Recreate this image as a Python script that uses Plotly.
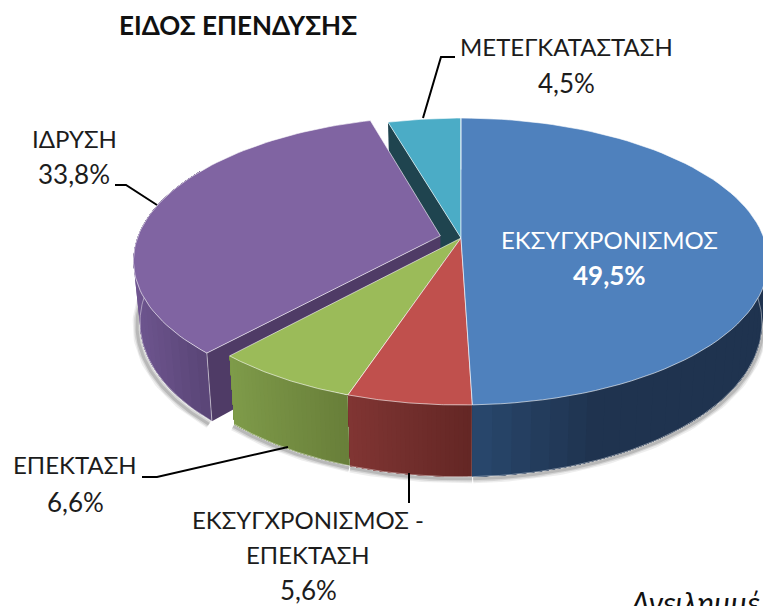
import numpy as np
import plotly.graph_objects as go

# ---- data (clockwise from 12 o'clock) ----
categories = ["ΕΚΣΥΓΧΡΟΝΙΣΜΟΣ", "ΕΚΣΥΓΧΡΟΝΙΣΜΟΣ - ΕΠΕΚΤΑΣΗ", "ΕΠΕΚΤΑΣΗ", "ΙΔΡΥΣΗ", "ΜΕΤΕΓΚΑΤΑΣΤΑΣΗ"]
values = [49.5, 5.6, 6.6, 33.8, 4.5]
explode = [0, 0, 0, 0.07, 0]
top_colors = ["#4F81BD", "#C0504D", "#9BBB59", "#8064A2", "#4BACC6"]
wall_left = ["#2A4A70", "#813634", "#7F9C4A", "#6F5690", "#2A5F6E"]
wall_right = ["#1F334F", "#642725", "#697F3A", "#5B4678", "#2A5F6E"]
radial_colors = ["#1F334F", "#642725", "#697F3A", "#4F3B66", "#1F444F"]
title = "ΕΙΔΟΣ ΕΠΕΝΔΥΣΗΣ"
footnote = "Ανειλημμέ"

W, H = 763, 606
CX, CY, RX, RY, P, DEPTH, BOTTOM_SCALE = 461, 238, 303, 139.6, 0.164, 60, 0.98
FONT = "Lato, 'Open Sans', sans-serif"


def project(theta, r=1.0, slice_i=None, bottom=False):
    """Perspective projection of a point on the pie disc; theta in degrees clockwise from top."""
    t = np.radians(theta)
    u, v = r * np.sin(t), r * np.cos(t)
    if slice_i is not None and explode[slice_i]:
        mid = np.radians(mid_angle[slice_i])
        u = u + explode[slice_i] * np.sin(mid)
        v = v + explode[slice_i] * np.cos(mid)
    w = 1 + P * v
    x = RX * u / w
    y = -RY * v / w
    if bottom:
        x = x * BOTTOM_SCALE
        y = y + DEPTH / w
    return CX + x, CY + y


edges = np.concatenate([[0], np.cumsum(values)]) * 3.6
mid_angle = [(edges[i] + edges[i + 1]) / 2 for i in range(len(values))]


def rgb(h):
    return np.array([int(h[i:i + 2], 16) for i in (1, 3, 5)], float)


def mix(a, b, t):
    c = rgb(a) * (1 - t) + rgb(b) * t
    return "rgb(%d,%d,%d)" % tuple(c)


fig = go.Figure()


def poly(x, y, color, line=None, width=0.0):
    fig.add_trace(go.Scatter(x=list(x), y=list(y), mode="lines", fill="toself", fillcolor=color,
                             line=dict(color=line or color, width=width), hoverinfo="skip", showlegend=False))


def path(x, y, color, width):
    fig.add_trace(go.Scatter(x=list(x), y=list(y), mode="lines", line=dict(color=color, width=width),
                             hoverinfo="skip", showlegend=False))


def arc(i, bottom=False, a=None, b=None, n=80):
    a = edges[i] if a is None else a
    b = edges[i + 1] if b is None else b
    th = np.linspace(a, b, n)
    return project(th, 1.0, i, bottom)


def top(i):
    ax, ay = arc(i)
    ox, oy = project(0, 0, i)
    poly([ox, *ax, ox], [oy, *ay, oy], top_colors[i], "rgba(255,255,255,0.6)", 1)


def wall(i, strips=28):
    a = max(edges[i], 90)
    b = min(edges[i + 1], 300)
    th = np.linspace(a, b, strips + 1)
    xs_all = project(th, 1.0, i)[0]
    xmin, xmax = xs_all.min(), xs_all.max()
    # each band is painted up to the far end of the wall, so no seams show between bands
    for k in range(strips):
        tx, ty = arc(i, False, th[k], b, 40)
        bx, by = arc(i, True, th[k], b, 40)
        x0 = project(th[k], 1.0, i)[0]
        t = (x0 - xmin) / max(xmax - xmin, 1)
        if i == 0:
            t = min(1, t * 2.2)
        poly([*tx, *bx[::-1]], [*ty, *by[::-1]], mix(wall_left[i], wall_right[i], t))
    bx, by = arc(i, True, a, b)
    path(bx, by, "rgba(255,255,255,0.55)", 0.8)


def radial(i, theta):
    ox, oy = project(0, 0, i)
    obx, oby = project(0, 0, i, True)
    px, py = project(theta, 1.0, i)
    qx, qy = project(theta, 1.0, i, True)
    poly([ox, px, qx, obx], [oy, py, qy, oby], radial_colors[i])


# soft shadow under the outer walls
for width, alpha in ((9, 0.10), (6, 0.16), (3, 0.24)):
    for i, off in ((3, (-3, 3)), (2, (-1, 2)), (1, (0, 2)), (0, (1, 2))):
        a, b = max(edges[i], 90), min(edges[i + 1], 292)
        sx, sy = arc(i, True, a, b)
        path(sx + off[0], sy + off[1], "rgba(90,90,90,%.2f)" % alpha, width)

# back to front
radial(4, edges[4])
top(4)
wall(3)
radial(3, edges[3])
ex0, ey0 = project(edges[3], 1.0, 3)
ex1, ey1 = project(edges[3], 1.0, 3, True)
path([ex0, ex1], [ey0, ey1], "rgba(255,255,255,0.6)", 0.8)
top(3)
for i in (2, 1, 0):
    wall(i)
    top(i)
    gx0, gy0 = project(edges[i], 1.0, i)
    gx1, gy1 = project(edges[i], 1.0, i, True)
    path([gx0, gx1], [gy0, gy1], "rgba(255,255,255,0.6)", 0.8)

# leader lines
leaders = [
    ([115, 126, 157], [185, 185, 205]),
    ([455, 441, 423], [57, 57, 118]),
    ([142, 157, 288], [477, 477, 447]),
    ([409, 409], [473, 503]),
]
for lx, ly in leaders:
    path(lx, ly, "black", 2)

# texts
pct = ["%s%%" % str(v).replace(".", ",") for v in values]
label_cfg = [
    (0, ["ΕΚΣΥΓΧΡΟΝΙΣΜΟΣ", pct[0]], 609, [239, 275], "white"),
    (1, ["ΕΚΣΥΓΧΡΟΝΙΣΜΟΣ -", "ΕΠΕΚΤΑΣΗ", pct[1]], 308, [519, 554, 590], "#1c1c1c"),
    (2, [categories[2], pct[2]], 75, [464, 502], "#1c1c1c"),
    (3, [categories[3], pct[3]], 74, [138, 174], "#1c1c1c"),
    (4, [categories[4], pct[4]], 566, [46, 83], "#1c1c1c"),
]
ann = []
for _, lines, x, ys, col in label_cfg:
    for s, y in zip(lines, ys):
        size = 26 if s.endswith("%") else 24
        text = "<b>%s</b>" % s if s == pct[0] else s
        ann.append(dict(x=x, y=y, text=text, showarrow=False, xanchor="center", yanchor="middle",
                        font=dict(family=FONT, size=size, color=col)))
ann.append(dict(x=238, y=25, text="<b>%s</b>" % title, showarrow=False, xanchor="center", yanchor="middle",
                font=dict(family=FONT, size=26, color="#111111")))
ann.append(dict(x=628, y=602, text="<i>%s</i>" % footnote, showarrow=False, xanchor="left", yanchor="middle",
                font=dict(family=FONT, size=30, color="#111111")))

fig.update_layout(
    width=W, height=H, margin=dict(l=0, r=0, t=0, b=0), paper_bgcolor="white", plot_bgcolor="white",
    xaxis=dict(range=[0, W], visible=False, fixedrange=True),
    yaxis=dict(range=[H, 0], visible=False, fixedrange=True),
    annotations=ann, showlegend=False,
)
fig.write_html("out.html", post_script="document.body.style.margin='0';", config={"displayModeBar": False})
